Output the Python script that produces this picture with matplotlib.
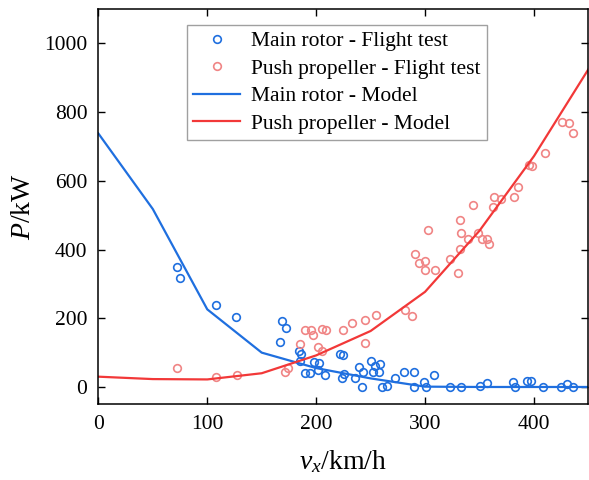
import numpy as np
import matplotlib
matplotlib.use('Agg')
import matplotlib.pyplot as plt

plt.rcParams['font.family'] = 'Liberation Serif'
plt.rcParams['mathtext.fontset'] = 'custom'
plt.rcParams['mathtext.rm'] = 'Liberation Serif'
plt.rcParams['mathtext.it'] = 'Liberation Serif:italic'

# model curves, sampled every 50 km/h
v_model = [0, 50, 100, 150, 200, 250, 300, 350, 400, 450]
main_model = [738, 518, 226, 100, 55, 25, 1, 0, 0, 0]
push_model = [30, 23, 22, 40, 92, 163, 277, 455, 672, 925]

# flight test points
main_v = [72, 75, 108, 126, 167, 169, 172, 184, 186, 185, 190, 194, 198, 203, 202, 208,
          222, 225, 226, 224, 236, 239, 242, 243, 250, 252, 254, 258, 259, 260, 265, 272,
          281, 290, 290, 299, 301, 308, 323, 333, 350, 357, 381, 383, 394, 397, 408, 425,
          430, 436]
main_p = [349, 318, 239, 204, 131, 191, 171, 105, 95, 76, 42, 42, 72, 71, 48, 35,
          97, 94, 39, 27, 27, 58, -1, 44, 77, 44, 62, 43, 68, -1, 4, 26,
          43, 45, 1, 14, 0, 36, 1, 1, 4, 11, 14, 1, 17, 17, 1, 1,
          9, 1]

push_v = [72, 108, 127, 171, 174, 185, 190, 195, 197, 202, 205, 205, 209, 225, 233, 245,
          245, 255, 282, 288, 291, 294, 300, 300, 303, 309, 323, 330, 332, 333, 332, 339,
          344, 349, 352, 357, 359, 362, 363, 370, 382, 385, 395, 398, 410, 426, 432, 436]
push_p = [54, 28, 36, 43, 55, 126, 167, 167, 150, 116, 105, 169, 166, 166, 187, 194,
          128, 210, 223, 207, 387, 361, 366, 341, 458, 341, 372, 331, 401, 448, 487, 430,
          531, 448, 430, 430, 417, 523, 552, 547, 554, 581, 647, 643, 681, 771, 768, 740]

blue = '#1f6fdf'
red = '#f23838'
red_pt = '#f08585'

fig = plt.figure(figsize=(5.89, 4.8), dpi=100)
ax = fig.add_axes([0.167, 0.158, 0.832, 0.823])

ax.plot(main_v, main_p, 'o', ls='none', mfc='none', mec=blue, ms=5.5, mew=1.2,
        label='Main rotor - Flight test')
ax.plot(push_v, push_p, 'o', ls='none', mfc='none', mec=red_pt, ms=5.5, mew=1.2,
        label='Push propeller - Flight test')
ax.plot(v_model, main_model, color=blue, lw=1.6, label='Main rotor - Model')
ax.plot(v_model, push_model, color=red, lw=1.6, label='Push propeller - Model')

ax.set_xlim(0, 450)
ax.set_ylim(-50, 1100)
ax.set_xticks([0, 100, 200, 300, 400])
ax.set_yticks([0, 200, 400, 600, 800, 1000])
ax.tick_params(direction='in', top=True, right=True, length=5, width=1,
               labelsize=15.5, pad=8)
for s in ax.spines.values():
    s.set_linewidth(1.1)

ax.set_xlabel('$v_x$/km/h', fontsize=20, labelpad=10)
ax.set_ylabel('$P$/kW', fontsize=20, labelpad=6)

leg = ax.legend(loc='upper left', bbox_to_anchor=(0.18, 0.96), fontsize=15.5,
                numpoints=1, fancybox=False, framealpha=1, edgecolor='#a0a0a0',
                handlelength=2.2, handletextpad=0.5, borderpad=0.3, labelspacing=0.34,
                borderaxespad=0)
leg.get_frame().set_linewidth(1.0)

fig.savefig('out.png', dpi=100)
